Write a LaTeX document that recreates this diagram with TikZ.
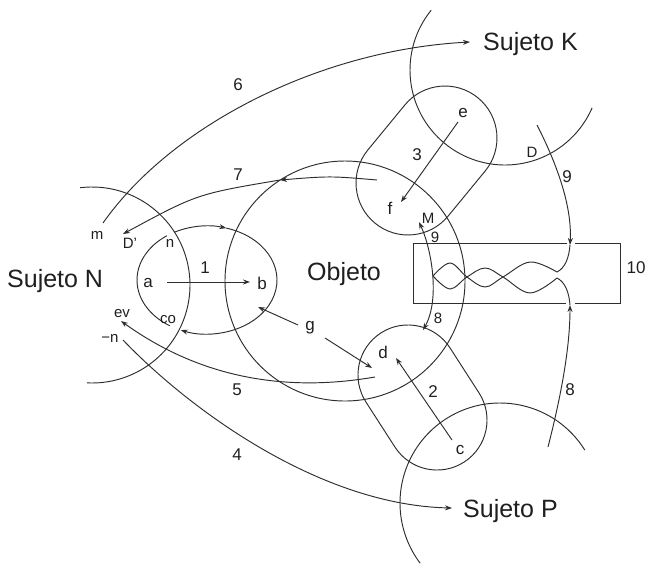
\documentclass[tikz,border=0pt]{standalone}
\usepackage{fontspec}
\setmainfont{Liberation Sans}
\usetikzlibrary{arrows.meta,calc}
\begin{document}
\begin{tikzpicture}[x=1pt,y=-1pt,
  >={Stealth[length=7pt,width=5pt]},
  ln/.style={line width=0.95pt, draw=black!82},
  arr/.style={ln, ->},
  big/.style={font=\fontsize{25}{25}\selectfont, inner sep=0pt, anchor=base west, text=black!88},
  num/.style={font=\fontsize{17}{17}\selectfont, inner sep=1pt, text=black!88},
  sml/.style={font=\fontsize{15}{15}\selectfont, inner sep=1pt, text=black!88}]
\useasboundingbox (0,0) rectangle (646,566);

% big labels
\node[big] (sn) at (7,287) {Sujeto N};
\node[big] (sk) at (483,50) {Sujeto K};
\node[big] (sp) at (463,517) {Sujeto P};
\node[big] (ob) at (307,280) {Objeto};

% subject circles
\draw[ln] (92,285) ++(-97:98) arc[start angle=-97,end angle=93,radius=98];
\draw[ln] (505,70) ++(-141:95) arc[start angle=-141,end angle=-336.5,radius=95];
\draw[ln] (500,503) ++(-32:100) arc[start angle=-32,end angle=-217,radius=100];
% object circle
\draw[ln] (345,281) circle[radius=120];

% a-b loop
\draw[ln] (207,280) ++(-125:70 and 54) arc[start angle=-125,end angle=-238,x radius=70,y radius=54];
\draw[arr] (207,280) ++(-118:70 and 54) arc[start angle=-118,end angle=-74,x radius=70,y radius=54];
\draw[ln] (207,280) ++(-74:70 and 54) arc[start angle=-74,end angle=62,x radius=70,y radius=54];
\draw[arr] (207,280) ++(62:70 and 54) arc[start angle=62,end angle=112,x radius=70,y radius=54];

% capsules
\begin{scope}[shift={(426.5,160.5)}, rotate=50.57]
\draw[ln] (-29.1,-52) -- (29.1,-52) arc[start angle=-90,end angle=90,radius=52]
  -- (-29.1,52) arc[start angle=90,end angle=270,radius=52] -- cycle;
\end{scope}
\begin{scope}[shift={(422.5,397.5)}, rotate=-57.2]
\draw[ln] (-26.8,-50) -- (26.8,-50) arc[start angle=-90,end angle=90,radius=50]
  -- (-26.8,50) arc[start angle=90,end angle=270,radius=50] -- cycle;
\end{scope}

% box 10 with waves
\draw[ln] (567,243) -- (413,243) -- (413,303) -- (566,303);
\draw[ln] (575,303) -- (620,303) -- (620,243) -- (575,243);
\draw[ln] plot[smooth, tension=0.6] coordinates {(433,276) (450,263) (467,277) (485,287) (503,277) (530,262) (557,272)};
\draw[ln] plot[smooth, tension=0.6] coordinates {(433,276) (450,289) (467,277) (485,268) (503,277) (530,293) (557,278)};

% small labels
\node[num] (l6) at (238,85) {6};
\node[num] (l7) at (238,175) {7};
\node[sml] (lm) at (97,235) {m};
\node[sml] (lDp) at (130,243) {D'};
\node[sml] (lnn) at (170,243) {n};
\node[num] (l1) at (205,268) {1};
\node[num] (la) at (148,283) {a};
\node[num] (lb) at (262,283) {b};
\node[sml] (lco) at (168,320) {co};
\node[sml] (lev) at (122,314) {ev};
\node[sml] (lmn) at (110,338) {−n};
\node[num] (lg) at (310,328) {g};
\node[num] (l5) at (237,390) {5};
\node[num] (l4) at (237,455) {4};
\node[num] (le) at (463,113) {e};
\node[num] (l3) at (417,155) {3};
\node[num] (lf) at (390,208) {f};
\node[sml] (lM) at (428,218) {M};
\node[sml] (l9a) at (435,237) {9};
\node[sml] (lD) at (532,152) {D};
\node[num] (l9b) at (567,177) {9};
\node[num] (l10) at (636,268) {10};
\node[sml] (l8a) at (438,318) {8};
\node[num] (ld) at (383,352) {d};
\node[num] (l2) at (433,392) {2};
\node[num] (lc) at (460,450) {c};
\node[num] (l8b) at (570,390) {8};

% coordinates
\coordinate (a1) at (167,282); \coordinate (b1) at (250,282);
\coordinate (e1) at (458,122); \coordinate (f1) at (401,202);
\coordinate (c1) at (452,440); \coordinate (d1) at (396,358);
\coordinate (g1) at (298,325); \coordinate (g2) at (258,307);
\coordinate (g3) at (325,338); \coordinate (g4) at (372,368);
\coordinate (m6) at (103,223); \coordinate (k6) at (470,42);
\coordinate (s7) at (377,180); \coordinate (m7) at (280,180); \coordinate (d7) at (123,234);
\coordinate (s5) at (375,377); \coordinate (e5) at (121,321);
\coordinate (s4) at (123,340); \coordinate (p4) at (452,508);
\coordinate (M1) at (419,222); \coordinate (d2) at (423,330);
\coordinate (D1) at (537,125); \coordinate (t9) at (570,245); \coordinate (w1) at (557,272);
\coordinate (s8) at (548,447); \coordinate (t8) at (570,305); \coordinate (w2) at (557,278);

% arrows
\draw[arr] (a1) -- (b1);
\draw[arr] (e1) -- (f1);
\draw[arr] (c1) -- (d1);
\draw[arr] (g1) -- (g2);
\draw[arr] (g3) -- (g4);
\draw[arr] (m6) .. controls (172,125) and (320,50) .. (k6);
\draw[arr] (s7) .. controls (330,176) .. (m7);
\draw[arr] (m7) .. controls (197,194) .. (d7);
\draw[arr] (s5) .. controls (300,390) and (210,385) .. (e5);
\draw[arr] (s4) .. controls (190,410) and (320,505) .. (p4);
\draw[ln,<->] (M1) .. controls (432,250) and (440,300) .. (d2);
\draw[arr] (D1) .. controls (560,170) and (572,210) .. (t9);
\draw[ln] (t9) .. controls (569,258) and (565,268) .. (w1);
\draw[arr] (s8) .. controls (560,400) and (570,350) .. (t8);
\draw[ln] (t8) .. controls (569,292) and (565,282) .. (w2);
\end{tikzpicture}
\end{document}
